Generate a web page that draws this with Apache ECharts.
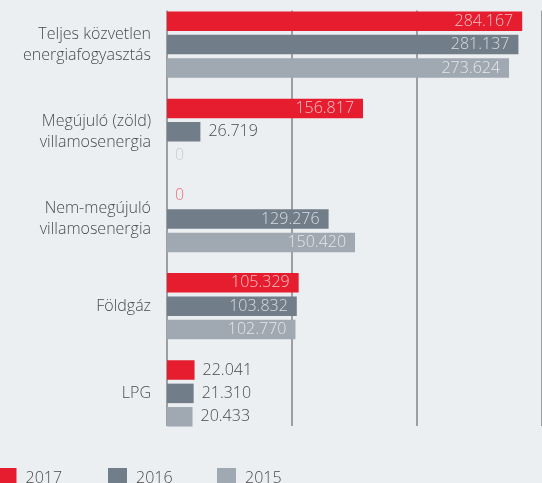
<!DOCTYPE html>
<html>
<head>
<meta charset="utf-8">
<script src="https://cdn.jsdelivr.net/npm/echarts@6/dist/echarts.min.js"></script>
<style>
  html, body { margin: 0; padding: 0; background: #eceff2; }
  #chart { width: 542px; height: 483px; }
</style>
</head>
<body>
<div id="chart"></div>
<script>
  const categories = [
    'Teljes közvetlen\nenergiafogyasztás',
    'Megújuló (zöld)\nvillamosenergia',
    'Nem-megújuló\nvillamosenergia',
    'Földgáz',
    'LPG'
  ];
  const years = ['2017', '2016', '2015'];
  const values2017 = [284.167, 156.817, 0, 105.329, 22.041];
  const values2016 = [281.137, 26.719, 129.276, 103.832, 21.310];
  const values2015 = [273.624, 0, 150.420, 102.770, 20.433];

  const font = '"Open Sans", Lato, sans-serif';
  const colors = ['#e51d2e', '#717d89', '#a0a9b1'];
  const zeroColors = ['#ef6b76', '#c6cbd0'];
  const zeroColorFor = i => (i === 0 ? zeroColors[0] : zeroColors[1]);

  // long bars get the label inside, short ones outside
  function buildData(values, idx) {
    return values.map(v => {
      let label;
      if (v === 0) {
        label = {position: 'right', distance: 8, color: zeroColorFor(idx)};
      } else if (v < 50) {
        label = {position: 'right', distance: 8, color: '#4a4a4a'};
      } else {
        label = {position: 'insideRight', distance: 9, color: 'rgba(255,255,255,0.72)'};
      }
      return {value: v, label: label};
    });
  }

  function barSeries(name, values, idx) {
    return {
      name: name,
      type: 'bar',
      xAxisIndex: 0,
      yAxisIndex: 0,
      barWidth: 19.5,
      barGap: '20%',
      itemStyle: {color: colors[idx]},
      label: {
        show: true,
        fontFamily: font,
        fontWeight: 300,
        fontSize: 16,
        formatter: p => (p.value === 0 ? '0' : p.value.toFixed(3))
      },
      data: buildData(values, idx),
      animation: false
    };
  }

  const chart = echarts.init(document.getElementById('chart'));
  chart.setOption({
    backgroundColor: '#eceff2',
    legend: years.map((y, i) => ({
      data: [y],
      left: [-7.5, 103, 212][i],
      top: 463,
      itemWidth: 19,
      itemHeight: 20,
      icon: 'rect',
      textStyle: {
        fontFamily: font,
        fontWeight: 300,
        fontSize: 16,
        color: '#4a4a4a',
        padding: [0, 0, 0, 4]
      }
    })),
    grid: [
      {left: 167, top: 1, width: 379, height: 436},
      {left: 167, top: 10.4, width: 379, height: 415.6}
    ],
    xAxis: [
      {
        gridIndex: 0,
        type: 'value',
        min: 0,
        max: 300,
        interval: 100,
        axisLine: {show: false},
        axisTick: {show: false},
        axisLabel: {show: false},
        splitLine: {show: false}
      },
      {
        gridIndex: 1,
        type: 'value',
        min: 0,
        max: 300,
        interval: 100,
        axisLine: {show: false},
        axisTick: {show: false},
        axisLabel: {show: false},
        splitLine: {show: true, lineStyle: {color: '#858585', width: 1.5}}
      }
    ],
    yAxis: [
      {
        gridIndex: 0,
        type: 'category',
        inverse: true,
        data: categories,
        axisLine: {show: false},
        axisTick: {show: false},
        axisLabel: {
          margin: 16,
          fontFamily: font,
          fontWeight: 300,
          fontSize: 16,
          lineHeight: 21,
          color: '#4a4a4a',
          align: 'right'
        }
      },
      {
        gridIndex: 1,
        type: 'value',
        min: 0,
        max: 1,
        show: false
      }
    ],
    series: [
      barSeries(years[0], values2017, 0),
      barSeries(years[1], values2016, 1),
      barSeries(years[2], values2015, 2),
      {type: 'line', xAxisIndex: 1, yAxisIndex: 1, data: [], silent: true}
    ]
  });
</script>
</body>
</html>
